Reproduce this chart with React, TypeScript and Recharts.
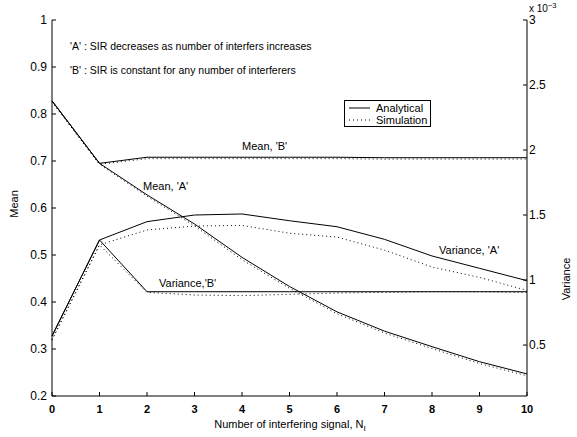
import React from 'react';
import { LineChart, Line, XAxis, YAxis } from 'recharts';

// number of interfering signals
const ni = [0, 1, 2, 3, 4, 5, 6, 7, 8, 9, 10];

// mean (left axis)
const meanA = [0.828, 0.695, 0.628, 0.566, 0.495, 0.433, 0.379, 0.338, 0.305, 0.273, 0.247];
const meanASim = [0.826, 0.693, 0.625, 0.562, 0.49, 0.429, 0.375, 0.334, 0.301, 0.269, 0.243];
const meanB = [0.828, 0.695, 0.708, 0.708, 0.708, 0.708, 0.708, 0.707, 0.707, 0.707, 0.707];
const meanBSim = [0.826, 0.693, 0.705, 0.705, 0.705, 0.705, 0.705, 0.704, 0.704, 0.704, 0.704];

// variance (right axis, x 10^-3)
const varA = [0.569, 1.308, 1.449, 1.5, 1.508, 1.456, 1.41, 1.313, 1.185, 1.09, 0.995];
const varASim = [0.54, 1.27, 1.385, 1.415, 1.42, 1.36, 1.33, 1.23, 1.1, 1.02, 0.92];
const varB = [0.569, 1.308, 0.91, 0.91, 0.91, 0.91, 0.91, 0.91, 0.91, 0.91, 0.91];
const varBSim = [0.54, 1.27, 0.905, 0.885, 0.88, 0.89, 0.9, 0.905, 0.91, 0.91, 0.905];

const meanTicks = [0.2, 0.3, 0.4, 0.5, 0.6, 0.7, 0.8, 0.9, 1];
const varTicks = [0.5, 1, 1.5, 2, 2.5, 3];

const data = ni.map((n, i) => ({
  n,
  meanA: meanA[i],
  meanASim: meanASim[i],
  meanB: meanB[i],
  meanBSim: meanBSim[i],
  varA: varA[i],
  varASim: varASim[i],
  varB: varB[i],
  varBSim: varBSim[i],
}));

const font = '"Liberation Sans", Arial, Helvetica, sans-serif';
const dotted = '1 3';

const App: React.FC = () => {
  const tickStyle = { fill: '#000', fontSize: 12, fontFamily: font };
  return (
    <div style={{ position: 'absolute', left: 0, top: 0, width: 577, height: 437, background: '#fff' }}>
      <LineChart width={577} height={437} data={data} margin={{ top: 20, right: 0, bottom: 0, left: 0 }}>
        <XAxis
          dataKey="n"
          type="number"
          domain={[0, 10]}
          ticks={ni}
          interval={0}
          axisLine={{ stroke: '#000' }}
          tickLine={{ stroke: '#000' }}
          tickSize={-4}
          tickMargin={13}
          height={41}
          tick={{ fill: '#000', fontSize: 11, fontWeight: 700, fontFamily: font }}
        />
        <YAxis
          yAxisId="mean"
          domain={[0.2, 1]}
          ticks={meanTicks}
          interval={0}
          width={52}
          axisLine={{ stroke: '#000' }}
          tickLine={{ stroke: '#000' }}
          tickSize={-4}
          tickMargin={9}
          tick={tickStyle}
        />
        <YAxis
          yAxisId="var"
          orientation="right"
          domain={[0.108, 3]}
          ticks={varTicks}
          interval={0}
          width={50}
          axisLine={{ stroke: '#000' }}
          tickLine={{ stroke: '#000' }}
          tickSize={-4}
          tickMargin={6}
          tick={tickStyle}
        />
        <Line yAxisId="mean" dataKey="meanASim" stroke="#000" strokeWidth={1} strokeDasharray={dotted} dot={false} isAnimationActive={false} />
        <Line yAxisId="mean" dataKey="meanBSim" stroke="#000" strokeWidth={1} strokeDasharray={dotted} dot={false} isAnimationActive={false} />
        <Line yAxisId="var" dataKey="varASim" stroke="#000" strokeWidth={1} strokeDasharray={dotted} dot={false} isAnimationActive={false} />
        <Line yAxisId="var" dataKey="varBSim" stroke="#000" strokeWidth={1} strokeDasharray={dotted} dot={false} isAnimationActive={false} />
        <Line yAxisId="mean" dataKey="meanA" stroke="#000" strokeWidth={1} dot={false} isAnimationActive={false} />
        <Line yAxisId="mean" dataKey="meanB" stroke="#000" strokeWidth={1} dot={false} isAnimationActive={false} />
        <Line yAxisId="var" dataKey="varA" stroke="#000" strokeWidth={1} dot={false} isAnimationActive={false} />
        <Line yAxisId="var" dataKey="varB" stroke="#000" strokeWidth={1} dot={false} isAnimationActive={false} />
      </LineChart>
      <svg
        width={577}
        height={437}
        style={{ position: 'absolute', left: 0, top: 0, pointerEvents: 'none' }}
        fontFamily={font}
      >
        <text x={70} y={50} fontSize={10.5}>'A' : SIR decreases as number of interfers increases</text>
        <text x={70} y={74} fontSize={10.5}>'B' : SIR is constant for any number of interferers</text>
        <text x={242} y={150} fontSize={11}>Mean, 'B'</text>
        <text x={143} y={190} fontSize={11}>Mean, 'A'</text>
        <text x={439} y={254} fontSize={11}>Variance, 'A'</text>
        <text x={159} y={287} fontSize={11}>Variance,'B'</text>
        <text x={529} y={12} fontSize={10}>
          x 10<tspan dy={-4} fontSize={7.5}>−3</tspan>
        </text>
        <text x={0} y={0} fontSize={11} textAnchor="middle" transform="translate(18,204) rotate(-90)">Mean</text>
        <text x={0} y={0} fontSize={11} textAnchor="middle" transform="translate(570,279) rotate(-90)">Variance</text>
        <text x={290} y={428} fontSize={11} textAnchor="middle">
          Number of interfering signal, N<tspan dy={3} fontSize={8}>I</tspan>
        </text>
        <rect x={344.5} y={100.5} width={86} height={26} fill="#fff" stroke="#000" strokeWidth={1} />
        <line x1={349} y1={108} x2={370} y2={108} stroke="#000" strokeWidth={1} />
        <line x1={349} y1={120} x2={370} y2={120} stroke="#000" strokeWidth={1} strokeDasharray={dotted} />
        <text x={376} y={112} fontSize={11}>Analytical</text>
        <text x={376} y={124} fontSize={11}>Simulation</text>
      </svg>
    </div>
  );
};

export default App;
